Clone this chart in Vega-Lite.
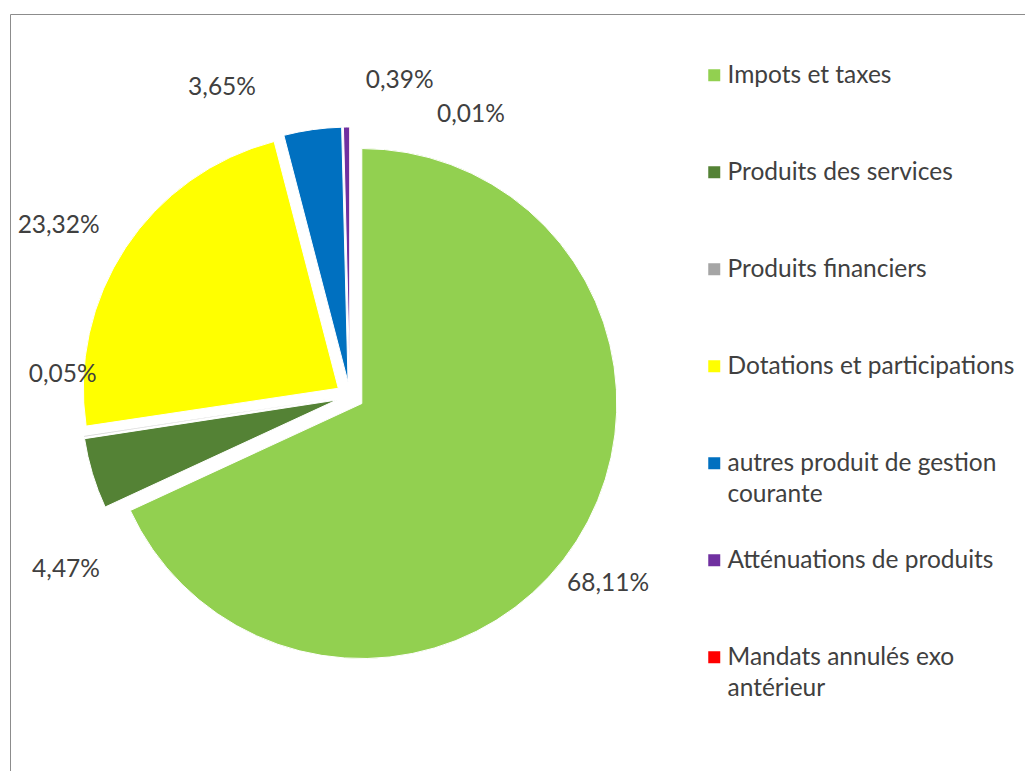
{
  "$schema": "https://vega.github.io/schema/vega-lite/v6.json",
  "width": 1015,
  "height": 757,
  "autosize": "none",
  "padding": {"left": 10, "top": 14, "right": 0, "bottom": 0},
  "background": "white",
  "config": {
    "view": {"stroke": "#8c8c8c", "strokeWidth": 1},
    "locale": {"number": {"decimal": ",", "thousands": " ", "grouping": [3], "currency": ["", " €"]}},
    "text": {"font": "Lato", "fontSize": 24.5, "fill": "#404040"},
    "style": {"guide-label": {"dy": -11, "lineHeight": 31}}
  },
  "data": {
    "values": [
      {"idx": 1, "cat": "Impots et taxes", "value": 0.6811},
      {"idx": 2, "cat": "Produits des services", "value": 0.0447},
      {"idx": 4, "cat": "Dotations et participations", "value": 0.2332},
      {"idx": 5, "cat": "autres produit de gestion courante", "value": 0.0365},
      {"idx": 3, "cat": "Produits financiers", "value": 0.0005},
      {"idx": 6, "cat": "Atténuations de produits", "value": 0.0039},
      {"idx": 7, "cat": "Mandats annulés exo antérieur", "value": 0.0001}
    ]
  },
  "encoding": {
    "theta": {"field": "value", "type": "quantitative", "stack": true},
    "order": {"field": "idx", "type": "quantitative"},
    "x": {"datum": 0.33498, "type": "quantitative", "scale": {"domain": [0, 1], "nice": false, "zero": false}, "axis": null},
    "y": {"datum": 0.50462, "type": "quantitative", "scale": {"domain": [0, 1], "nice": false, "zero": false, "reverse": true}, "axis": null}
  },
  "layer": [
    {
      "mark": {"type": "arc", "outerRadius": 255, "stroke": "white", "strokeWidth": 1},
      "encoding": {
        "x": {"datum": 0.34660, "type": "quantitative"},
        "y": {"datum": 0.51459, "type": "quantitative"},
        "opacity": {"condition": {"test": "datum.idx == 1", "value": 1}, "value": 0},
        "color": {
          "field": "cat",
          "type": "nominal",
          "scale": {
            "domain": ["Impots et taxes", "Produits des services", "Produits financiers", "Dotations et participations", "autres produit de gestion courante", "Atténuations de produits", "Mandats annulés exo antérieur"],
            "range": ["#92D050", "#548235", "#A5A5A5", "#FFFF00", "#0070C0", "#7030A0", "#FF0000"]
          },
          "legend": {
            "orient": "none",
            "legendX": 692,
            "legendY": 49,
            "direction": "vertical",
            "title": null,
            "padding": 0,
            "symbolType": "square",
            "symbolSize": 144,
            "symbolStrokeWidth": 0,
            "symbolOpacity": 1,
            "labelFont": "Lato",
            "labelFontSize": 24.5,
            "labelColor": "#404040",
            "labelLimit": 400,
            "labelOffset": 1,
            "rowPadding": 41,
            "labelBaseline": "top",
            "labelExpr": "datum.label == 'autres produit de gestion courante' ? ['autres produit de gestion', 'courante'] : datum.label == 'Mandats annulés exo antérieur' ? ['Mandats annulés exo', 'antérieur'] : [datum.label, ' ']"
          }
        }
      }
    },
    {
      "mark": {"type": "arc", "outerRadius": 255, "stroke": "white", "strokeWidth": 1},
      "encoding": {
        "x": {"datum": 0.32177, "type": "quantitative"},
        "y": {"datum": 0.50997, "type": "quantitative"},
        "opacity": {"condition": {"test": "datum.idx == 2", "value": 1}, "value": 0},
        "color": {"field": "cat", "type": "nominal", "legend": null}
      }
    },
    {
      "mark": {"type": "arc", "outerRadius": 255, "stroke": "white", "strokeWidth": 1},
      "encoding": {
        "x": {"datum": 0.32346, "type": "quantitative"},
        "y": {"datum": 0.49444, "type": "quantitative"},
        "opacity": {"condition": {"test": "datum.idx == 4", "value": 1}, "value": 0},
        "color": {"field": "cat", "type": "nominal", "legend": null}
      }
    },
    {
      "mark": {"type": "arc", "outerRadius": 255, "stroke": "white", "strokeWidth": 1},
      "encoding": {
        "x": {"datum": 0.33306, "type": "quantitative"},
        "y": {"datum": 0.48631, "type": "quantitative"},
        "opacity": {"condition": {"test": "datum.idx == 5", "value": 1}, "value": 0},
        "color": {"field": "cat", "type": "nominal", "legend": null}
      }
    },
    {
      "mark": {"type": "arc", "outerRadius": 255, "stroke": "white", "strokeWidth": 0.5},
      "encoding": {
        "x": {"datum": 0.32134, "type": "quantitative"},
        "y": {"datum": 0.50738, "type": "quantitative"},
        "opacity": {"condition": {"test": "datum.idx == 3", "value": 1}, "value": 0},
        "color": {"field": "cat", "type": "nominal", "legend": null}
      }
    },
    {
      "mark": {"type": "arc", "outerRadius": 255, "stroke": "white", "strokeWidth": 1},
      "encoding": {
        "x": {"datum": 0.33480, "type": "quantitative"},
        "y": {"datum": 0.48613, "type": "quantitative"},
        "opacity": {"condition": {"test": "datum.idx == 6", "value": 1}, "value": 0},
        "color": {"field": "cat", "type": "nominal", "legend": null}
      }
    },
    {
      "mark": {"type": "arc", "outerRadius": 255, "stroke": "white", "strokeWidth": 0.5},
      "encoding": {
        "x": {"datum": 0.33498, "type": "quantitative"},
        "y": {"datum": 0.48613, "type": "quantitative"},
        "opacity": {"condition": {"test": "datum.idx == 7", "value": 1}, "value": 0},
        "color": {"field": "cat", "type": "nominal", "legend": null}
      }
    },
    {
      "mark": {"type": "text", "radius": 330, "dx": -20, "dy": 10, "color": "#404040"},
      "encoding": {"text": {"condition": {"test": "datum.idx == 1", "field": "value", "type": "quantitative", "format": ".2%"}, "value": ""}}
    },
    {
      "mark": {"type": "text", "radius": 330, "dx": 32, "dy": 79, "color": "#404040"},
      "encoding": {"text": {"condition": {"test": "datum.idx == 2", "field": "value", "type": "quantitative", "format": ".2%"}, "value": ""}}
    },
    {
      "mark": {"type": "text", "radius": 330, "dx": 39, "dy": -70, "color": "#404040"},
      "encoding": {"text": {"condition": {"test": "datum.idx == 3", "field": "value", "type": "quantitative", "format": ".2%"}, "value": ""}}
    },
    {
      "mark": {"type": "text", "radius": 330, "dx": -16, "dy": 12, "color": "#404040"},
      "encoding": {"text": {"condition": {"test": "datum.idx == 4", "field": "value", "type": "quantitative", "format": ".2%"}, "value": ""}}
    },
    {
      "mark": {"type": "text", "radius": 330, "dx": -82, "dy": 19, "color": "#404040"},
      "encoding": {"text": {"condition": {"test": "datum.idx == 5", "field": "value", "type": "quantitative", "format": ".2%"}, "value": ""}}
    },
    {
      "mark": {"type": "text", "radius": 330, "dx": 54, "dy": 15, "color": "#404040"},
      "encoding": {"text": {"condition": {"test": "datum.idx == 6", "field": "value", "type": "quantitative", "format": ".2%"}, "value": ""}}
    },
    {
      "mark": {"type": "text", "radius": 330, "dx": 121, "dy": 49, "color": "#404040"},
      "encoding": {"text": {"condition": {"test": "datum.idx == 7", "field": "value", "type": "quantitative", "format": ".2%"}, "value": ""}}
    }
  ]
}
